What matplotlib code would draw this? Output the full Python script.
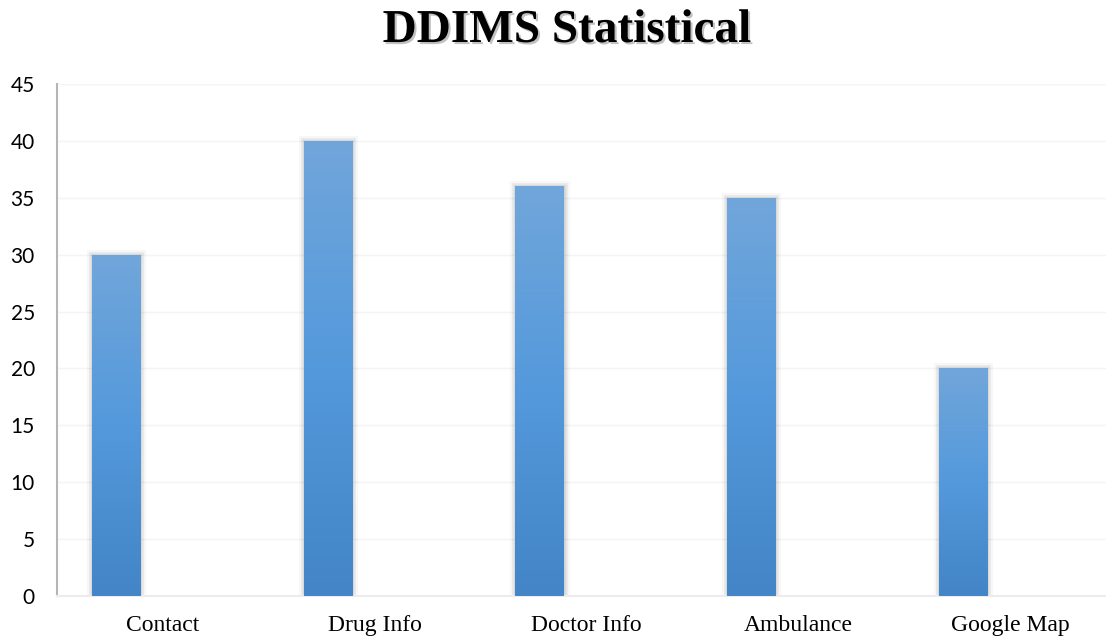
import numpy as np
import matplotlib
matplotlib.use('Agg')
import matplotlib.pyplot as plt
import matplotlib.patheffects as pe
from matplotlib.colors import LinearSegmentedColormap

categories = ['Contact', 'Drug Info', 'Doctor Info', 'Ambulance', 'Google Map']
values = [30, 40, 36, 35, 20]
yticks = [0, 5, 10, 15, 20, 25, 30, 35, 40, 45]

fig = plt.figure(figsize=(11.06, 6.38), dpi=100)
ax = fig.add_axes([57 / 1106, 42 / 638, 1059 / 1106, 512 / 638])

x = np.arange(len(categories))
bar_w = 0.227
offset = -0.222

# top lighter -> bottom darker
cmap = LinearSegmentedColormap.from_list('bar', ['#4385c6', '#5499dc', '#71a6da'])
grad = np.linspace(0, 1, 256).reshape(-1, 1)

shadow = [pe.Stroke(linewidth=8, foreground='#000000', alpha=0.03),
          pe.Stroke(linewidth=5, foreground='#000000', alpha=0.05),
          pe.Stroke(linewidth=2.5, foreground='#000000', alpha=0.07),
          pe.Normal()]

bars = ax.bar(x + offset, values, width=bar_w, color='#5b9bd5', linewidth=0, zorder=2)
for b in bars:
    b.set_path_effects(shadow)
    x0, w, h = b.get_x(), b.get_width(), b.get_height()
    im = ax.imshow(grad, cmap=cmap, origin='lower', aspect='auto',
                   extent=[x0, x0 + w, 0, h], zorder=3)
    im.set_clip_path(b)

ax.set_xlim(-0.5, len(categories) - 0.5)
ax.set_ylim(0, 45)
ax.set_yticks(yticks)
ax.set_xticks(x)
ax.set_xticklabels(categories, fontfamily='Liberation Serif', fontsize=17)
ax.tick_params(axis='x', length=0, pad=14, colors='#000000')
ax.tick_params(axis='y', length=0, pad=16, labelsize=15)
for lab in ax.get_yticklabels():
    lab.set_fontfamily('Lato')

ax.grid(axis='y', color='#f4f4f4', linewidth=1, zorder=0)
ax.set_axisbelow(True)
for s in ['top', 'right']:
    ax.spines[s].set_visible(False)
ax.spines['left'].set_color('#b5b5b5')
ax.spines['left'].set_linewidth(1.5)
ax.spines['bottom'].set_color('#ececec')
ax.spines['bottom'].set_linewidth(1.5)

fig.text(567 / 1106, 1 - 31 / 638, 'DDIMS Statistical', ha='center', va='center',
         fontfamily='Liberation Serif', fontweight='bold', fontsize=34,
         path_effects=[pe.withSimplePatchShadow(offset=(1.5, -1.5), shadow_rgbFace='#777777', alpha=0.45)])

fig.savefig('out.png', dpi=100)
